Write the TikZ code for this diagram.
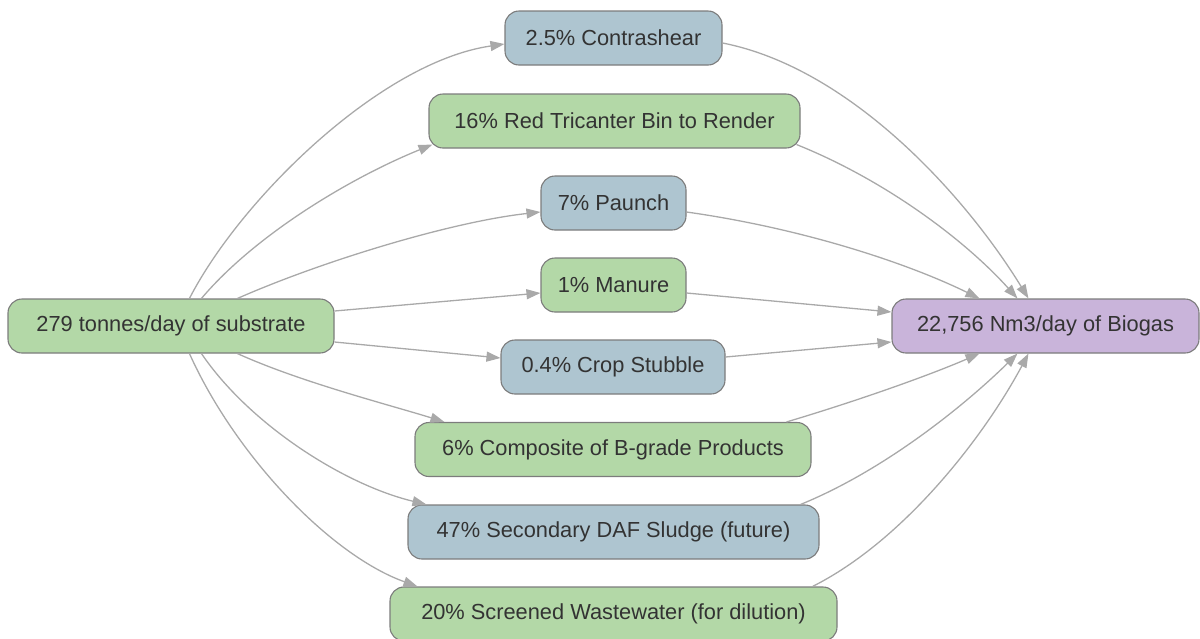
\documentclass[tikz,border=0pt]{standalone}
\usepackage{fontspec}
\setmainfont{Liberation Sans}
\usetikzlibrary{arrows.meta}
\definecolor{gfill}{HTML}{B3D8A7}
\definecolor{bfill}{HTML}{AEC5D0}
\definecolor{pfill}{HTML}{C9B4DA}
\definecolor{bord}{HTML}{7C7C7C}
\definecolor{edgec}{HTML}{A9A9A9}
\definecolor{txt}{HTML}{333333}
\tikzset{
  box/.style={draw=bord, line width=1.1pt, rounded corners=14pt, minimum height=54pt,
    inner sep=0pt, text=txt, font=\fontsize{21.8}{26}\selectfont},
  gbox/.style={box, fill=gfill},
  bbox/.style={box, fill=bfill},
  pbox/.style={box, fill=pfill},
  flow/.style={draw=edgec, line width=1.3pt, -{Triangle[length=14pt,width=10pt]}},
}
\begin{document}
\begin{tikzpicture}[x=1pt,y=-1pt]
\useasboundingbox (0,0) rectangle (1200,638);
\node[gbox, minimum width=326pt] (src) at (171,326) {279 tonnes/day of substrate};
\node[pbox, minimum width=307pt] (bio) at (1045.5,326) {22,756 Nm3/day of Biogas};
\node[bbox, minimum width=217pt] (ctr) at (613.5,38) {2.5\% Contrashear};
\node[gbox, minimum width=371pt] (tri) at (614.5,121) {16\% Red Tricanter Bin to Render};
\node[bbox, minimum width=145pt] (pau) at (613.5,203) {7\% Paunch};
\node[gbox, minimum width=145pt] (man) at (613.5,285) {1\% Manure};
\node[bbox, minimum width=224pt] (crop) at (613,367) {0.4\% Crop Stubble};
\node[gbox, minimum width=396pt] (comp) at (613,449.5) {6\% Composite of B-grade Products};
\node[bbox, minimum width=411pt] (daf) at (613.5,532) {47\% Secondary DAF Sludge (future)};
\node[gbox, minimum width=447pt] (scr) at (613.5,614) {20\% Screened Wastewater (for dilution)};

% source to intermediates
\draw[flow] ([xshift=182pt]src.north west) .. controls (240,200) and (380,62) .. ([yshift=-6pt]ctr.west);
\draw[flow] ([xshift=194pt]src.north west) .. controls (255,235) and (350,178) .. ([xshift=4pt,yshift=4pt]tri.south west);
\draw[flow] ([xshift=230pt]src.north west) .. controls (320,262) and (450,222) .. ([yshift=-9pt]pau.west);
\draw[flow] ([yshift=15pt]src.east) -- ([yshift=-8pt]man.west);
\draw[flow] ([yshift=-16pt]src.east) -- ([yshift=9pt]crop.west);
\draw[flow] ([xshift=230pt]src.south west) .. controls (300,382) and (390,405) .. ([xshift=30pt]comp.north west);
\draw[flow] ([xshift=194pt]src.south west) .. controls (250,425) and (345,485) .. ([xshift=19pt]daf.north west);
\draw[flow] ([xshift=182pt]src.south west) .. controls (235,455) and (330,555) .. ([xshift=28pt]scr.north west);

% intermediates to biogas
\draw[flow] ([yshift=-5pt]ctr.east) .. controls (850,68) and (965,195) .. ([xshift=137pt]bio.north west);
\draw[flow] ([xshift=-4pt,yshift=4pt]tri.south east) .. controls (885,180) and (965,240) .. ([xshift=126pt]bio.north west);
\draw[flow] ([yshift=-9pt]pau.east) .. controls (800,228) and (905,262) .. ([xshift=88pt]bio.north west);
\draw[flow] ([yshift=-8pt]man.east) -- ([yshift=14pt]bio.west);
\draw[flow] ([yshift=10pt]crop.east) -- ([yshift=-16pt]bio.west);
\draw[flow] ([xshift=-25pt]comp.north east) .. controls (860,400) and (930,375) .. ([xshift=88pt]bio.south west);
\draw[flow] ([xshift=-19pt]daf.north east) .. controls (885,470) and (965,405) .. ([xshift=126pt]bio.south west);
\draw[flow] ([xshift=-25pt]scr.north east) .. controls (905,540) and (985,435) .. ([xshift=137pt]bio.south west);
\end{tikzpicture}
\end{document}
